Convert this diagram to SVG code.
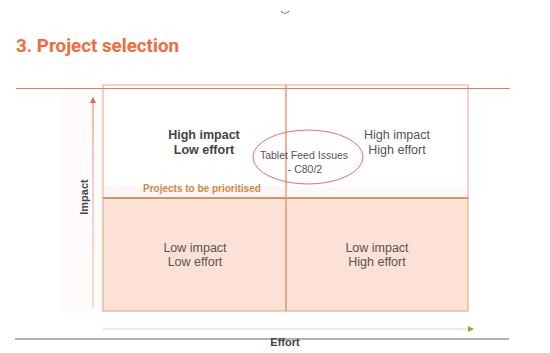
<svg xmlns="http://www.w3.org/2000/svg" width="550" height="353" viewBox="0 0 550 353">
<defs>
<style>
.t{font-family:"Liberation Sans",Arial,sans-serif;text-anchor:middle;fill:#555}
.b{font-weight:bold;fill:#444}
</style>
<linearGradient id="vg" gradientUnits="userSpaceOnUse" x1="93" y1="98" x2="93" y2="308">
<stop offset="0" stop-color="#f07050"/>
<stop offset="0.45" stop-color="#f0a888"/>
<stop offset="1" stop-color="#d8c8a0"/>
</linearGradient>
<marker id="ah" markerWidth="6" markerHeight="6" refX="5" refY="3" orient="auto" markerUnits="userSpaceOnUse">
<path d="M0,0 L6,3 L0,6 Z" fill="#a8a040"/>
</marker>
<marker id="av" markerWidth="6" markerHeight="6" refX="5" refY="3" orient="auto" markerUnits="userSpaceOnUse">
<path d="M0,0 L6,3 L0,6 Z" fill="#f06040"/>
</marker>
</defs>
<rect width="550" height="353" fill="#fff"/>
<path d="M281,11 Q285,16 289,11" fill="none" stroke="#777" stroke-width="1.2"/>
<text x="16" y="52" font-family="Roboto,'Liberation Sans',sans-serif" font-weight="bold" font-size="19" fill="#f26b3a" textLength="163" lengthAdjust="spacingAndGlyphs">3. Project selection</text>
<g id="background">
<rect x="62" y="92" width="41" height="220" fill="#fffbfc"/>
</g>
<g id="q-low-low">
<rect x="103" y="198" width="183" height="113" fill="#fde0d6" stroke="#d0a870" stroke-width="1"/>
<text class="t" x="195" y="252" font-size="12.5">Low impact</text>
<text class="t" x="195" y="266" font-size="12.5">Low effort</text>
</g>
<g id="q-low-high">
<rect x="286" y="198" width="182" height="113" fill="#fde0d6" stroke="#d0a870" stroke-width="1"/>
<text class="t" x="377" y="252" font-size="12.5">Low impact</text>
<text class="t" x="377" y="266" font-size="12.5">High effort</text>
</g>
<g id="q-high-low">
<rect x="103" y="85" width="183" height="113" fill="#fff" stroke="#f4a080" stroke-width="1"/>
<rect x="104" y="187" width="182" height="10" fill="#fff5f8"/>
<text class="t b" x="204" y="139" font-size="12.5">High impact</text>
<text class="t b" x="204" y="154" font-size="12.5">Low effort</text>
</g>
<g id="q-high-high">
<rect x="286" y="85" width="182" height="113" fill="#fff" stroke="#f4a080" stroke-width="1"/>
<rect x="287" y="187" width="180" height="10" fill="#fff7f9"/>
<text class="t" x="397" y="139" font-size="12.5">High impact</text>
<text class="t" x="397" y="154" font-size="12.5">High effort</text>
</g>
<g id="divider">
<line x1="103" y1="198" x2="468" y2="198" stroke="#b89050" stroke-width="1.5"/>
<line x1="286" y1="85" x2="286" y2="198" stroke="#f0a080" stroke-width="1"/>
<line x1="286" y1="198" x2="286" y2="311" stroke="#d0a070" stroke-width="1"/>
<text x="143" y="192" font-family="'Liberation Sans',Arial,sans-serif" font-weight="bold" font-size="10" fill="#d08a40">Projects to be prioritised</text>
</g>
<g id="project">
<ellipse cx="308" cy="157" rx="55" ry="27" fill="none" stroke="#e86890" stroke-width="1"/>
<text class="t" x="304" y="159" font-size="10.5">Tablet Feed Issues</text>
<text class="t" x="305" y="173" font-size="10.5">- C80/2</text>
</g>
<g id="connectors">
<line x1="16" y1="88.5" x2="510" y2="88.5" stroke="#f07858" stroke-width="1.2"/>
<line x1="15" y1="339" x2="509" y2="339" stroke="#666" stroke-width="1.2"/>
<line x1="93" y1="308" x2="93" y2="98" stroke="url(#vg)" stroke-width="1" marker-end="url(#av)"/>
<line x1="103" y1="329" x2="473" y2="329" stroke="#e8d0b0" stroke-width="1" marker-end="url(#ah)"/>
</g>
<g id="labels">
<text class="t b" x="285" y="346" font-size="11">Effort</text>
<text class="t b" x="0" y="0" font-size="11" transform="translate(88,197) rotate(-90)">Impact</text>
</g>
</svg>
